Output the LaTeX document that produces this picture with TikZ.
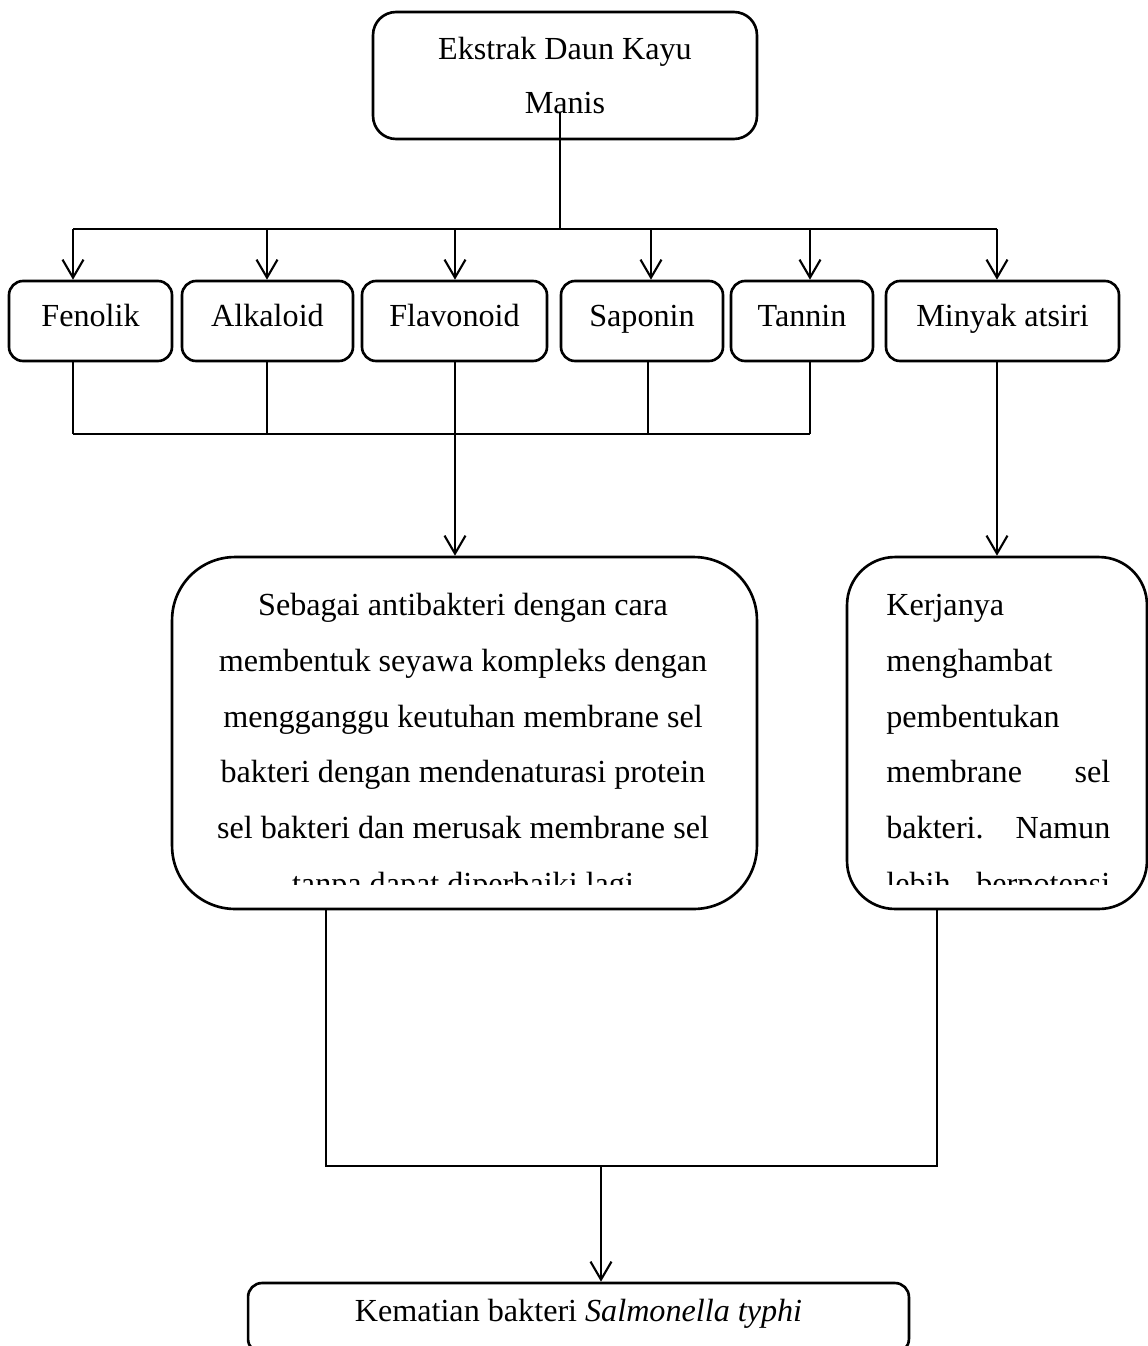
\documentclass[tikz,border=0pt]{standalone}
\usepackage{fontspec}
\setmainfont{Liberation Serif}
\usetikzlibrary{arrows.meta}

\begin{document}
\begin{tikzpicture}[x=0.02cm, y=-0.02cm,
		>={Straight Barb[length=0.36cm,width=0.42cm]},
		box/.style={draw, line width=1.5pt, rounded corners=0.28cm, inner sep=0pt, align=center, font=\fontsize{18.3}{31.7}\selectfont},
		item/.style={box, minimum height=1.6cm, text height=12.6pt, text depth=5.8pt},
		link/.style={line width=0.6pt},
		flow/.style={->, line width=1.2pt}]
			\clip (0,0) rectangle (1148,1346);
			\node[box, rounded corners=0.46cm, minimum width=7.68cm, minimum height=2.54cm, font=\fontsize{18.3}{30.6}\selectfont] (ekstrak) at (565, 75.5) {Ekstrak Daun Kayu\\Manis};

			\node[item, minimum width=3.26cm] (fenolik) at (90.5, 321) {Fenolik};
			\node[item, minimum width=3.42cm] (alkaloid) at (267.5, 321) {Alkaloid};
			\node[item, minimum width=3.7cm] (flavonoid) at (454.5, 321) {Flavonoid};
			\node[item, minimum width=3.24cm] (saponin) at (642, 321) {Saponin};
			\node[item, minimum width=2.84cm] (tannin) at (802, 321) {Tannin};
			\node[item, minimum width=4.66cm] (minyak) at (1002.5, 321) {Minyak atsiri};

			\node[box, rounded corners=1.26cm, minimum width=11.7cm, minimum height=7.04cm] (mech) at (464.5, 733) {};
			\node[box, rounded corners=0.96cm, minimum width=6cm, minimum height=7.04cm] (kerja) at (997, 733) {};
			\node[box, minimum width=13.22cm, minimum height=1.4cm, text height=12.6pt, text depth=8.1pt] (mati) at (578.5, 1318) {Kematian bakteri \textit{Salmonella typhi}};

			\begin{scope}
				\clip (mech.north west) rectangle ([yshift=0.52cm]kerja.south east);
				\node[align=center, anchor=north, inner sep=0pt, font=\fontsize{18.3}{31.7}\selectfont] (mechtext) at (463, 593) {Sebagai antibakteri dengan cara\\membentuk seyawa kompleks dengan\\mengganggu keutuhan membrane sel\\bakteri dengan mendenaturasi protein\\sel bakteri dan merusak membrane sel\\tanpa dapat diperbaiki lagi};
				\node[align=left, text width=4.48cm, anchor=north west, inner sep=0pt, font=\fontsize{18.3}{31.7}\selectfont] (kerjatext) at (886, 594) {Kerjanya\\menghambat\\pembentukan\\membrane\hfill sel\\bakteri.\hfill Namun\\lebih\hfill berpotensi};
			\end{scope}

			\coordinate (stem) at (560, 112);
			\coordinate (fork) at (560, 229);
			\coordinate (join) at (455, 434);
			\coordinate (merge) at (601, 1166);

			\draw[link] (stem) -- (fork);
			\draw[link] (fork -| 73,0) -- (fork -| 997,0);
			\foreach \n/\x in {fenolik/73, alkaloid/267, flavonoid/455, saponin/651, tannin/810, minyak/997}
				\draw[flow] (fork -| \x,0) -- (\n.north -| \x,0);

			\foreach \n/\x in {fenolik/73, alkaloid/267, saponin/648, tannin/810}
				\draw[link] (\n.south -| \x,0) -- (join -| \x,0);
			\draw[link] (join -| 73,0) -- (join -| 810,0);
			\draw[flow] (flavonoid.south -| join) -- (mech.north -| join);
			\draw[flow] (kerja.north |- minyak.south) -- (kerja.north);

			\draw[link] (mech.south -| 326,0) -- (merge -| 326,0) -- (merge -| 937,0) -- (kerja.south -| 937,0);
			\draw[flow] (merge) -- (merge |- mati.north);
		\end{tikzpicture}
\end{document}
